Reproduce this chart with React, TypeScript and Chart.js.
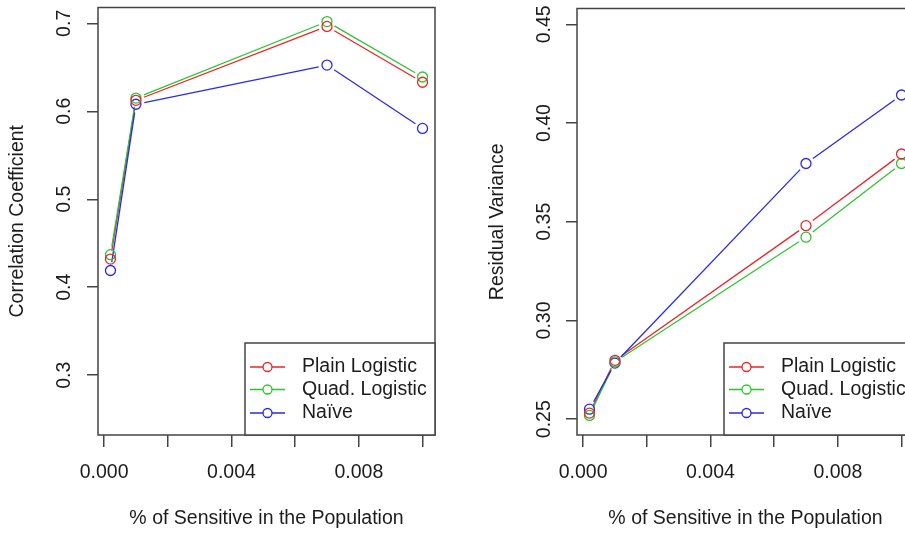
import React, { useEffect, useRef } from 'react';
import { Chart, registerables } from 'chart.js';
Chart.register(...registerables);

const X_VALUES = [0.0002, 0.001, 0.007, 0.01];
const SERIES_NAMES = ['Plain Logistic', 'Quad. Logistic', 'Naïve'];
const SERIES_COLORS = ['#e8262b', '#2fc42f', '#2a2ae6'];

const CORR_PLAIN = [0.432, 0.6125, 0.6965, 0.633];
const CORR_QUAD = [0.437, 0.615, 0.702, 0.639];
const CORR_NAIVE = [0.419, 0.608, 0.6525, 0.5805];

const RESID_PLAIN = [0.2531, 0.2798, 0.348, 0.3843];
const RESID_QUAD = [0.2519, 0.279, 0.3422, 0.3795];
const RESID_NAIVE = [0.2551, 0.2784, 0.3795, 0.4142];

const X_TICKS = [0, 0.002, 0.004, 0.006, 0.008, 0.01];
const X_TICK_LABELS = ['0.000', '', '0.004', '', '0.008', ''];
const CORR_TICKS = [0.3, 0.4, 0.5, 0.6, 0.7];
const CORR_TICK_LABELS = ['0.3', '0.4', '0.5', '0.6', '0.7'];
const RESID_TICKS = [0.25, 0.3, 0.35, 0.4, 0.45];
const RESID_TICK_LABELS = ['0.25', '0.30', '0.35', '0.40', '0.45'];

const X_TITLE = '% of Sensitive in the Population';
const CORR_TITLE = 'Correlation Coefficient';
const RESID_TITLE = 'Residual Variance';

const FONT_FAMILY = '"Liberation Sans", Arial, Helvetica, sans-serif';
const FONT_SIZE = 19.5;
const TEXT_COLOR = '#1c1c1c';
const AXIS_COLOR = '#444444';

const rPlugin = {
  id: 'rstyle',
  beforeDatasetsDraw(chart: any) {
    const ctx = chart.ctx;
    const gap = 8.5;
    ctx.save();
    chart.data.datasets.forEach((ds: any, i: number) => {
      const meta = chart.getDatasetMeta(i);
      const pts = meta.data;
      ctx.strokeStyle = ds.borderColor;
      ctx.lineWidth = 1.3;
      for (let j = 0; j < pts.length - 1; j++) {
        const a = pts[j];
        const b = pts[j + 1];
        const dx = b.x - a.x;
        const dy = b.y - a.y;
        const d = Math.sqrt(dx * dx + dy * dy);
        if (d <= 2 * gap) continue;
        const ux = dx / d;
        const uy = dy / d;
        ctx.beginPath();
        ctx.moveTo(a.x + ux * gap, a.y + uy * gap);
        ctx.lineTo(b.x - ux * gap, b.y - uy * gap);
        ctx.stroke();
      }
    });
    ctx.restore();
  },
  afterDraw(chart: any) {
    const opts = chart.options.plugins.rstyle;
    const ctx = chart.ctx;
    const area = chart.chartArea;
    ctx.save();
    // box
    ctx.strokeStyle = AXIS_COLOR;
    ctx.lineWidth = 1.5;
    ctx.strokeRect(area.left, area.top, area.right - area.left, area.bottom - area.top);
    // y tick labels (parallel to axis)
    ctx.fillStyle = TEXT_COLOR;
    ctx.font = `${FONT_SIZE}px ${FONT_FAMILY}`;
    ctx.textAlign = 'center';
    ctx.textBaseline = 'middle';
    const ys = chart.scales.y;
    opts.yTicks.forEach((v: number, i: number) => {
      const y = ys.getPixelForValue(v);
      ctx.save();
      ctx.translate(opts.yLabelX, y);
      ctx.rotate(-Math.PI / 2);
      ctx.fillText(opts.yLabels[i], 0, 0);
      ctx.restore();
    });
    // legend
    const lw = 190;
    const lh = 92;
    const lx = area.right - lw;
    const ly = area.bottom - lh;
    ctx.fillStyle = '#ffffff';
    ctx.fillRect(lx, ly, lw, lh);
    ctx.strokeStyle = AXIS_COLOR;
    ctx.lineWidth = 1.5;
    ctx.strokeRect(lx, ly, lw, lh);
    const rows = [24, 46.5, 70];
    chart.data.datasets.forEach((ds: any, i: number) => {
      const y = ly + rows[i];
      ctx.strokeStyle = ds.borderColor;
      ctx.lineWidth = 1.3;
      ctx.beginPath();
      ctx.moveTo(lx + 5, y);
      ctx.lineTo(lx + 40, y);
      ctx.stroke();
      ctx.fillStyle = '#ffffff';
      ctx.beginPath();
      ctx.arc(lx + 22.5, y, 4.5, 0, Math.PI * 2);
      ctx.fill();
      ctx.stroke();
      ctx.fillStyle = TEXT_COLOR;
      ctx.textAlign = 'left';
      ctx.textBaseline = 'middle';
      ctx.fillText(ds.label, lx + 57, y);
    });
    ctx.restore();
  },
};

type PanelProps = {
  left: number;
  width: number;
  yAxisWidth: number;
  rightPad: number;
  topPad: number;
  yLabelX: number;
  yTitlePad: number;
  yTitle: string;
  yMin: number;
  yMax: number;
  yTicks: number[];
  yLabels: string[];
  series: number[][];
};

function Panel(p: PanelProps) {
  const ref = useRef<HTMLCanvasElement | null>(null);
  useEffect(() => {
    if (!ref.current) return;
    const datasets = p.series.map((vals, i) => ({
      label: SERIES_NAMES[i],
      data: X_VALUES.map((x, j) => ({ x, y: vals[j] })),
      borderColor: SERIES_COLORS[i],
      backgroundColor: 'rgba(0,0,0,0)',
      pointBorderColor: SERIES_COLORS[i],
      pointBackgroundColor: 'rgba(0,0,0,0)',
      pointRadius: 5,
      pointBorderWidth: 1.3,
      pointStyle: 'circle',
      showLine: false,
    }));
    const chart = new Chart(ref.current, {
      type: 'line',
      data: { datasets },
      plugins: [rPlugin],
      options: {
        animation: false,
        responsive: false,
        devicePixelRatio: 1,
        layout: { padding: { left: 0, right: p.rightPad, top: p.topPad, bottom: 0 } },
        plugins: {
          legend: { display: false },
          tooltip: { enabled: false },
          rstyle: { yTicks: p.yTicks, yLabels: p.yLabels, yLabelX: p.yLabelX },
        } as any,
        scales: {
          x: {
            type: 'linear',
            min: -0.000192,
            max: 0.010392,
            afterBuildTicks: (s: any) => {
              s.ticks = X_TICKS.map((value) => ({ value }));
            },
            afterFit: (s: any) => {
              s.height = 98;
            },
            ticks: {
              autoSkip: false,
              maxRotation: 0,
              minRotation: 0,
              padding: 14,
              color: TEXT_COLOR,
              font: { family: FONT_FAMILY, size: FONT_SIZE },
              callback: (_v: any, i: number) => X_TICK_LABELS[i],
            },
            grid: {
              drawOnChartArea: false,
              drawTicks: true,
              tickLength: 12,
              color: AXIS_COLOR,
              lineWidth: 1.5,
            },
            border: { display: false },
            title: {
              display: true,
              text: X_TITLE,
              color: TEXT_COLOR,
              font: { family: FONT_FAMILY, size: FONT_SIZE },
              padding: { top: 0, bottom: 3 },
            },
          },
          y: {
            type: 'linear',
            min: p.yMin,
            max: p.yMax,
            afterBuildTicks: (s: any) => {
              s.ticks = p.yTicks.map((value) => ({ value }));
            },
            afterFit: (s: any) => {
              s.width = p.yAxisWidth;
            },
            ticks: { display: false },
            grid: {
              drawOnChartArea: false,
              drawTicks: true,
              tickLength: 11,
              color: AXIS_COLOR,
              lineWidth: 1.5,
            },
            border: { display: false },
            title: {
              display: true,
              text: p.yTitle,
              color: TEXT_COLOR,
              font: { family: FONT_FAMILY, size: FONT_SIZE },
              padding: { top: p.yTitlePad, bottom: 0 },
            },
          },
        },
      } as any,
    });
    return () => chart.destroy();
  }, []);
  return (
    <canvas
      ref={ref}
      width={p.width}
      height={533}
      style={{ position: 'absolute', left: p.left, top: 0, width: p.width, height: 533 }}
    />
  );
}

export default function App() {
  return (
    <div
      style={{
        position: 'fixed',
        left: 0,
        top: 0,
        width: 905,
        height: 533,
        overflow: 'hidden',
        background: '#ffffff',
      }}
    >
      <Panel
        left={0}
        width={452}
        yAxisWidth={98}
        rightPad={17}
        topPad={7.5}
        yLabelX={65}
        yTitlePad={6.4}
        yTitle={CORR_TITLE}
        yMin={0.232}
        yMax={0.718}
        yTicks={CORR_TICKS}
        yLabels={CORR_TICK_LABELS}
        series={[CORR_PLAIN, CORR_QUAD, CORR_NAIVE]}
      />
      <Panel
        left={452}
        width={480}
        yAxisWidth={125}
        rightPad={18}
        topPad={8.5}
        yLabelX={93}
        yTitlePad={34.4}
        yTitle={RESID_TITLE}
        yMin={0.242}
        yMax={0.458}
        yTicks={RESID_TICKS}
        yLabels={RESID_TICK_LABELS}
        series={[RESID_PLAIN, RESID_QUAD, RESID_NAIVE]}
      />
    </div>
  );
}
